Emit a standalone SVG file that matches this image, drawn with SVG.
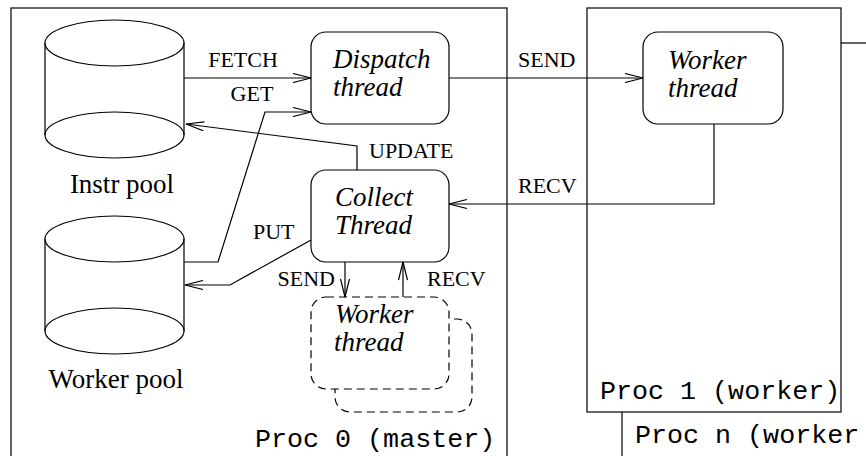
<svg xmlns="http://www.w3.org/2000/svg" width="866" height="456" viewBox="0 0 866 456">
<defs>
<style>
.ln{fill:none;stroke:#000;stroke-width:1.2}
.box{fill:#fff;stroke:#000;stroke-width:1.2}
.dash{fill:#fff;stroke:#000;stroke-width:1.2;stroke-dasharray:8 5}
.lbl{font-family:"Liberation Serif","Times New Roman",serif;font-size:22px;fill:#000}
.big{font-family:"Liberation Serif","Times New Roman",serif;font-size:27px;fill:#000}
.it{font-family:"Liberation Serif","Times New Roman",serif;font-size:27px;font-style:italic;fill:#000}
.mono{font-family:"Liberation Mono","Courier New",monospace;font-size:26.7px;fill:#000}
</style>
<marker id="ah" viewBox="0 0 20 10" refX="19" refY="5" markerWidth="20" markerHeight="10" markerUnits="userSpaceOnUse" orient="auto">
<path d="M1,0.5 L19,5 L1,9.5" fill="none" stroke="#000" stroke-width="1.2"/>
</marker>
</defs>
<rect width="866" height="456" fill="#fff"/>

<g id="proc-n">
<rect class="box" x="622" y="43" width="300" height="500"/>
<text class="mono" x="635" y="443">Proc n (worker</text>
</g>
<g id="proc-0">
<rect class="box" x="11" y="8" width="496" height="500"/>
<text class="mono" x="255" y="447">Proc 0 (master)</text>
</g>
<g id="proc-1">
<rect class="box" x="587" y="8" width="254" height="404"/>
<text class="mono" x="600" y="399">Proc 1 (worker)</text>
</g>

<g id="instr-pool">
<path class="ln" d="M45,43 L45,135 A69.5,23 0 0 0 184,135 L184,43"/>
<ellipse class="ln" cx="114.5" cy="43" rx="69.5" ry="23"/>
<path class="ln" d="M45,135 A69.5,23 0 0 1 184,135"/>
<text class="big" x="122" y="193" text-anchor="middle">Instr pool</text>
</g>
<g id="worker-pool">
<path class="ln" d="M45,239 L45,331 A69.5,23 0 0 0 184,331 L184,239"/>
<ellipse class="ln" cx="114.5" cy="239" rx="69.5" ry="23"/>
<path class="ln" d="M45,331 A69.5,23 0 0 1 184,331"/>
<text class="big" x="116" y="388" text-anchor="middle">Worker pool</text>
</g>

<g id="dispatch-thread">
<rect class="box" x="311" y="32" width="138" height="92" rx="15"/>
<text class="it" x="333" y="68">Dispatch</text>
<text class="it" x="333" y="96">thread</text>
</g>
<g id="collect-thread">
<rect class="box" x="311" y="170" width="138" height="92" rx="15"/>
<text class="it" x="335" y="206">Collect</text>
<text class="it" x="335" y="234">Thread</text>
</g>
<g id="worker-thread-1">
<rect class="box" x="643" y="32" width="140" height="92" rx="15"/>
<text class="it" x="668" y="69">Worker</text>
<text class="it" x="668" y="97">thread</text>
</g>
<g id="worker-thread-local">
<rect class="dash" x="335" y="319" width="137" height="93" rx="15"/>
<rect class="dash" x="311" y="297" width="138" height="92" rx="15"/>
<text class="it" x="335" y="323">Worker</text>
<text class="it" x="334" y="351">thread</text>
</g>

<g id="connectors">
<path class="ln" d="M184,78 L311,78" marker-end="url(#ah)"/>
<path class="ln" d="M184,262 L218,262 L265,112 L311,112" marker-end="url(#ah)"/>
<path class="ln" d="M357,170 L357,146 L186,124" marker-end="url(#ah)"/>
<path class="ln" d="M449,78 L643,78" marker-end="url(#ah)"/>
<path class="ln" d="M714,124 L714,204 L449,204" marker-end="url(#ah)"/>
<path class="ln" d="M311,240 L230,285 L185,285" marker-end="url(#ah)"/>
<path class="ln" d="M345,262 L345,297" marker-end="url(#ah)"/>
<path class="ln" d="M403,297 L403,262" marker-end="url(#ah)"/>
<text class="lbl" x="243" y="67" text-anchor="middle">FETCH</text>
<text class="lbl" x="252" y="101" text-anchor="middle">GET</text>
<text class="lbl" x="518" y="67">SEND</text>
<text class="lbl" x="518" y="193">RECV</text>
<text class="lbl" x="369" y="158">UPDATE</text>
<text class="lbl" x="253" y="239">PUT</text>
<text class="lbl" x="335" y="286" text-anchor="end">SEND</text>
<text class="lbl" x="427" y="286">RECV</text>
</g>
</svg>
